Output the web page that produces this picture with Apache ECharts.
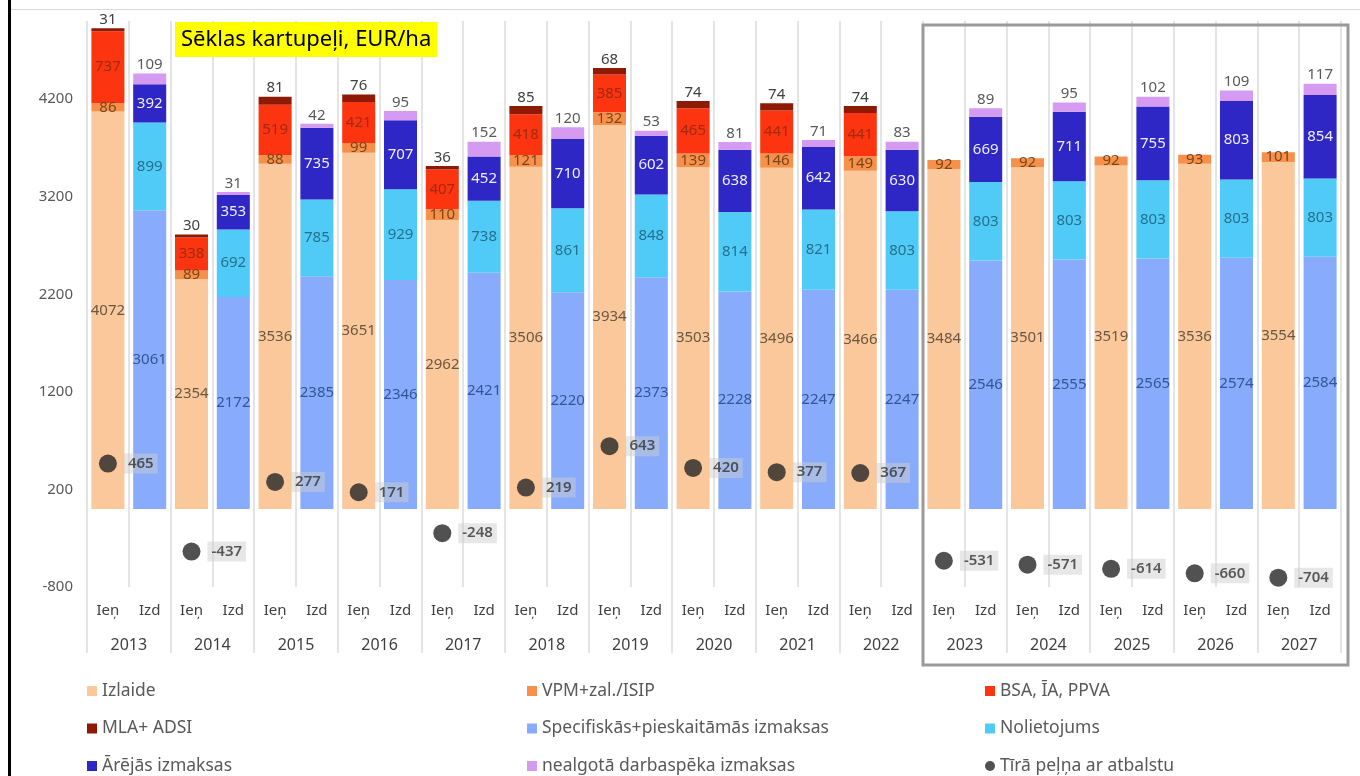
<!DOCTYPE html>
<html>
<head>
<meta charset="utf-8">
<script src="https://cdn.jsdelivr.net/npm/echarts@6/dist/echarts.min.js"></script>
<style>
html,body{margin:0;padding:0;background:#fff;}
#main{width:1360px;height:776px;}
</style>
</head>
<body>
<div id="main"></div>
<script>
// ---- data ----
const years = ['2013','2014','2015','2016','2017','2018','2019','2020','2021','2022','2023','2024','2025','2026','2027'];
const sides = ['Ieņ','Izd'];
const yTicks = [-800, 200, 1200, 2200, 3200, 4200];
// Ieņēmumi (income)
const izlaide = [4072,2354,3536,3651,2962,3506,3934,3503,3496,3466,3484,3501,3519,3536,3554];
const vpm     = [86,89,88,99,110,121,132,139,146,149,92,92,92,93,101];
const bsa     = [737,338,519,421,407,418,385,465,441,441,null,null,null,null,null];
const mla     = [31,30,81,76,36,85,68,74,74,74,null,null,null,null,null];
// Izdevumi (costs)
const specifiskas = [3061,2172,2385,2346,2421,2220,2373,2228,2247,2247,2546,2555,2565,2574,2584];
const nolietojums = [899,692,785,929,738,861,848,814,821,803,803,803,803,803,803];
const arejas      = [392,353,735,707,452,710,602,638,642,630,669,711,755,803,854];
const nealgota    = [109,31,42,95,152,120,53,81,71,83,89,95,102,109,117];
// Net profit
const tirapelna   = [465,-437,277,171,-248,219,643,420,377,367,-531,-571,-614,-660,-704];

// ---- build ----
const cats = [];
years.forEach(y => sides.forEach(s => cats.push(y + ' ' + s)));
function onSide(arr, sideIdx) {
  const out = [];
  arr.forEach(v => { for (let k = 0; k < 2; k++) out.push(k === sideIdx ? v : null); });
  return out;
}
const FONT = 'Noto Sans';
function barSeries(name, arr, sideIdx, color, labelColor, pos) {
  return {
    name: name,
    type: 'bar',
    stack: 'all',
    barWidth: '79%',
    data: onSide(arr, sideIdx),
    itemStyle: { color: color },
    label: {
      show: true,
      position: pos,
      distance: 1,
      color: labelColor,
      fontFamily: FONT,
      fontSize: 15,
      formatter: p => (p.value == null ? '' : p.value)
    },
    emphasis: { disabled: true }
  };
}

const chart = echarts.init(document.getElementById('main'), null, { renderer: 'canvas' });
const option = {
  animation: false,
  backgroundColor: '#ffffff',
  textStyle: { fontFamily: FONT },
  title: {
    text: 'Sēklas kartupeļi, EUR/ha',
    left: 175, top: 22,
    backgroundColor: '#FFFF00',
    padding: [5, 6, 4, 6],
    textStyle: { fontFamily: FONT, fontSize: 22, fontWeight: 'normal', color: '#000', lineHeight: 26 }
  },
  grid: { left: 87, right: 19, top: 21, bottom: 189, containLabel: false },
  xAxis: [
    {
      type: 'category',
      data: cats,
      axisLine: { show: false },
      axisTick: { show: false },
      splitLine: { show: true, lineStyle: { color: '#e4e4e4', width: 2 } },
      axisLabel: {
        interval: 0, margin: 16, color: '#404040', fontSize: 15, fontFamily: FONT,
        formatter: v => v.split(' ')[1]
      }
    },
    {
      type: 'category',
      position: 'bottom',
      data: years,
      axisLine: { show: false },
      axisTick: { show: true, length: 66, lineStyle: { color: '#e4e4e4', width: 2 } },
      splitLine: { show: false },
      axisLabel: { interval: 0, margin: 50, color: '#404040', fontSize: 16, fontFamily: FONT }
    }
  ],
  yAxis: {
    type: 'value',
    min: -800, max: 5000, interval: 1000,
    axisLine: { show: false },
    axisTick: { show: false },
    splitLine: { show: false },
    axisLabel: {
      margin: 14, color: '#595959', fontSize: 15, fontFamily: FONT,
      showMaxLabel: false,
      formatter: v => (yTicks.indexOf(v) >= 0 ? v : '')
    }
  },
  legend: [
    { data: ['Izlaide', 'MLA+ ADSI', 'Ārējās izmaksas'], left: 87 },
    { data: ['VPM+zal./ISIP', 'Specifiskās+pieskaitāmās izmaksas', 'nealgotā darbaspēka izmaksas'], left: 527 },
    { data: ['BSA, ĪA, PPVA', 'Nolietojums', { name: 'Tīrā peļņa ar atbalstu', icon: 'circle' }], left: 985 }
  ].map(l => Object.assign({
    orient: 'vertical', top: 682, height: 120, padding: 0, itemGap: 19.5, itemWidth: 10, itemHeight: 10, icon: 'rect',
    selectedMode: false,
    textStyle: { fontFamily: FONT, fontSize: 17.5, color: '#595959', lineHeight: 17 }
  }, l)),
  series: [
    barSeries('Izlaide', izlaide, 0, '#FAC89A', '#6a5843', 'inside'),
    barSeries('VPM+zal./ISIP', vpm, 0, '#F6904A', '#7a4618', 'inside'),
    barSeries('BSA, ĪA, PPVA', bsa, 0, '#FC3510', '#a02a12', 'inside'),
    barSeries('MLA+ ADSI', mla, 0, '#8E1A04', '#404040', 'top'),
    barSeries('Specifiskās+pieskaitāmās izmaksas', specifiskas, 1, '#88ACFB', '#34559a', 'inside'),
    barSeries('Nolietojums', nolietojums, 1, '#50CBF7', '#26708e', 'inside'),
    barSeries('Ārējās izmaksas', arejas, 1, '#2E27C6', '#eeeeff', 'inside'),
    barSeries('nealgotā darbaspēka izmaksas', nealgota, 1, '#D59BF3', '#595959', 'top'),
    {
      name: 'Tīrā peļņa ar atbalstu',
      type: 'scatter',
      data: onSide(tirapelna, 0),
      symbol: 'circle',
      symbolSize: 18,
      z: 5,
      itemStyle: { color: '#262626' },
      label: {
        show: true, position: 'right', distance: 7,
        color: '#333', fontFamily: FONT, fontSize: 15, fontWeight: 600,
        backgroundColor: 'rgba(205,205,205,0.6)', padding: [3, 4, 2, 4],
        formatter: p => p.value
      },
      emphasis: { disabled: true }
    }
  ],
  graphic: [
    { type: 'rect', shape: { x: 8, y: 0, width: 3, height: 776 }, style: { fill: '#000' } },
    { type: 'rect', shape: { x: 11, y: 9, width: 1349, height: 1 }, style: { fill: '#d8d8d8' } }
  ]
};
chart.setOption(option);

// frame around the forecast years, placed from axis scales
const iStart = years.indexOf('2023') * 2;
const iEnd = years.length * 2 - 1;
const x0 = chart.convertToPixel({ xAxisIndex: 0 }, iStart);
const x1 = chart.convertToPixel({ xAxisIndex: 0 }, iEnd);
const half = (chart.convertToPixel({ xAxisIndex: 0 }, 1) - chart.convertToPixel({ xAxisIndex: 0 }, 0)) / 2;
const yTop = chart.convertToPixel({ yAxisIndex: 0 }, 5000);
const yBot = chart.convertToPixel({ yAxisIndex: 0 }, -800);
option.graphic.push({
  type: 'rect',
  shape: { x: x0 - half, y: yTop + 4, width: (x1 + half + 7) - (x0 - half), height: (yBot + 78) - (yTop + 4) },
  style: { fill: 'none', stroke: '#9a9a9a', lineWidth: 3 },
  z: 10
});
chart.setOption({ graphic: option.graphic });
</script>
</body>
</html>
